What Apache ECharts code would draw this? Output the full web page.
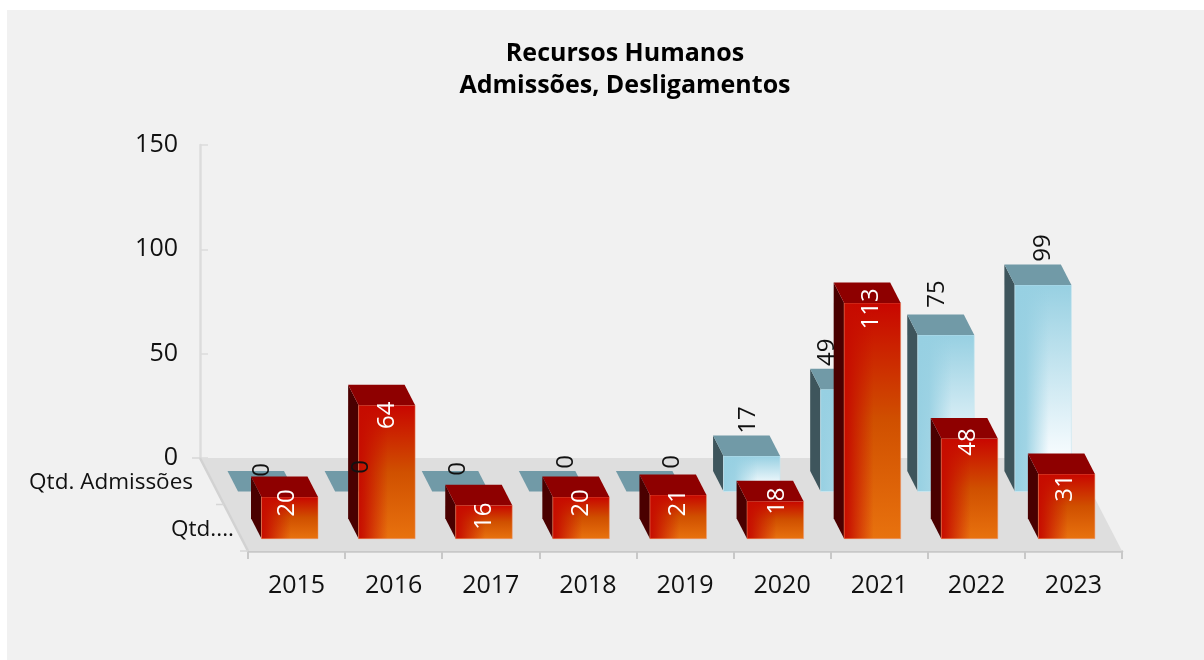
<!DOCTYPE html>
<html>
<head>
<meta charset="utf-8">
<script src="https://cdn.jsdelivr.net/npm/echarts@6/dist/echarts.min.js"></script>
<style>
html,body{margin:0;padding:0;background:#fff;width:1204px;height:660px;overflow:hidden}
#c{position:absolute;left:0;top:0;width:1204px;height:660px}
</style>
</head>
<body>
<div id="c"></div>
<script>
var years = ['2015','2016','2017','2018','2019','2020','2021','2022','2023'];
var admissoes = [0,0,0,0,0,17,49,75,99];
var desligamentos = [20,64,16,20,21,18,113,48,31];
var yTicks = [0,50,100,150];
var titleLines = 'Recursos Humanos\nAdmissões, Desligamentos';
var depthNames = ['Qtd. Admissões','Qtd....'];

var FONT = '"Open Sans","Noto Sans",sans-serif';
var chart = echarts.init(document.getElementById('c'), null, {renderer:'canvas'});

// projection settings
var GL = 248, GR = 82, GT = 145, GB = 202;
var floorDrop = 93, floorShift = 48;
var faceW = 56.5, dx = 10.5, dy = 20.5;
var backRow = {shiftX:-10, shiftY:33.5}, frontRow = {shiftX:13.5, shiftY:80.7};
// individual label placement (label centre relative to the face centre / top)
var backLabelAt = [[0,0],[0,0],[0,0],[0,0],[0,0],[-4,-36],[-22,-37],[-9,-41],[0,-37]];
var zeroCentre = [[262,470],[361,467],[458,469],[566,462],[672,462]];
var frontLabelAt = [[-3,6],[0,10],[0,11],[0,6],[0,8],[2,0],[-1,6],[-1,3.5],[-1,14]];

function poly(points, fill, z2){
  return {type:'polygon', shape:{points:points}, style:{fill:fill}, z2:z2||0};
}
function lin(x0,y0,x1,y1,stops){
  return {type:'linear', x:x0, y:y0, x2:x1, y2:y1, global:false, colorStops:stops.map(function(s){return {offset:s[0],color:s[1]};})};
}
function box(api, row, colors){
  var cat = api.value(0), val = api.value(1);
  var p0 = api.coord([cat, 0]), p1 = api.coord([cat, val]);
  var band = api.size([1,0])[0];
  var xL = p0[0] - band/2 + row.shiftX, xR = xL + faceW;
  var yB = p0[1] + row.shiftY, yT = p1[1] + row.shiftY;
  var kids = [];
  if (val > 0) {
    kids.push(poly([[xL,yB],[xL-dx,yB-dy],[xL-dx,yT-dy],[xL,yT]], colors.side));
    kids.push({type:'rect', shape:{x:xL,y:yT,width:faceW,height:yB-yT}, style:{fill:lin(0,0,0,1,colors.v)}});
    kids.push({type:'rect', shape:{x:xL,y:yT,width:faceW,height:yB-yT}, style:{fill:lin(0,0,1,0,colors.h)}});
    kids.push({type:'rect', shape:{x:xL,y:yT,width:faceW,height:yB-yT}, style:{fill:'none',stroke:colors.edge,lineWidth:1}});
  }
  kids.push(poly([[xL,yT],[xL-dx,yT-dy],[xR-dx,yT-dy],[xR,yT]], colors.top));
  return {type:'group', children:kids};
}
var blue = {
  side:'#3e555c', top:'#719aa7', edge:'rgba(200,230,240,0.6)',
  v:[[0,'#97d0e2'],[0.82,'#f6fbfe'],[1,'#ffffff']],
  h:[[0,'rgba(151,208,226,1)'],[0.2,'rgba(151,208,226,0.9)'],[0.6,'rgba(151,208,226,0)'],[1,'rgba(151,208,226,0)']]
};
var red = {
  side:'#4a0000', top:'#8e0000', edge:'rgba(240,150,110,0.5)',
  v:[[0,'#c80600'],[0.5,'#d05000'],[1,'#e8720e']],
  h:[[0,'rgba(198,12,0,1)'],[0.1,'rgba(198,12,0,0.85)'],[0.52,'rgba(198,12,0,0)'],[1,'rgba(198,12,0,0)']]
};
function renderBack(p, api){ return box(api, backRow, blue); }
function renderFront(p, api){ return box(api, frontRow, red); }

function renderFloor(p, api){
  if (p.dataIndex !== 0) return null;
  var c = p.coordSys;
  var xl = c.x, xr = c.x + c.width, yb = c.y + c.height + floorDrop, yt = c.y + c.height;
  var s = {stroke:'#d2d2d2', lineWidth:2.5};
  var t = {stroke:'#d6d6d6', lineWidth:1.5};
  var line = function(a,b,st){ return {type:'line', shape:{x1:a[0],y1:a[1],x2:b[0],y2:b[1]}, style:st}; };
  var ym = (yt+yb)/2;
  return {type:'group', children:[
    poly([[xl-floorShift,yt],[xr-floorShift,yt],[xr,yb],[xl,yb]], '#dedede'),
    line([xl-floorShift,yt],[xl,yb],s),
    line([xl-floorShift-8,yt],[xl-floorShift,yt],t),
    line([xl-floorShift/2-8,ym],[xl-floorShift/2,ym],t),
    line([xl-8,yb],[xl,yb],t)
  ]};
}
function rotText(x,y,text,color,size){
  return {type:'text', x:x, y:y, rotation:Math.PI/2, style:{text:text, fill:color, font:'400 '+size+'px '+FONT, align:'center', verticalAlign:'middle'}};
}
function renderBackLabel(p, api){
  var cat = api.value(0), val = api.value(1);
  var p0 = api.coord([cat,0]), p1 = api.coord([cat,val]);
  var band = api.size([1,0])[0];
  var cx = p0[0]-band/2+backRow.shiftX+faceW/2;
  var top = p1[1]+backRow.shiftY;
  if (val === 0) {
    var z = zeroCentre[cat];
    return rotText(z[0], z[1], String(val), '#111', 24);
  }
  var n = backLabelAt[cat];
  return rotText(cx+n[0], top+n[1], String(val), '#111', 24);
}
function renderFrontLabel(p, api){
  var cat = api.value(0), val = api.value(1);
  var p0 = api.coord([cat,0]), p1 = api.coord([cat,val]);
  var band = api.size([1,0])[0];
  var cx = p0[0]-band/2+frontRow.shiftX+faceW/2;
  var top = p1[1]+frontRow.shiftY;
  var n = frontLabelAt[cat];
  return rotText(cx+n[0], top+n[1], String(val), '#fff', 24);
}
function rows(arr){ return arr.map(function(v,i){return [i,v];}); }

chart.setOption({
  animation:false,
  backgroundColor:'transparent',
  graphic:[
    {type:'rect', z:-10, silent:true, shape:{x:7,y:10,width:1197,height:650}, style:{fill:'#f1f1f1'}},
    {type:'text', z:5, x:625, y:69.5, style:{text:titleLines, font:'700 25px '+FONT, fill:'#000', align:'center', verticalAlign:'middle', lineHeight:32}},
    {type:'text', z:5, x:193, y:483, style:{text:depthNames[0], font:'400 22.5px '+FONT, fill:'#111', align:'right', verticalAlign:'middle'}},
    {type:'text', z:5, x:234, y:530, style:{text:depthNames[1], font:'400 22.5px '+FONT, fill:'#111', align:'right', verticalAlign:'middle'}}
  ],
  grid:{left:GL, right:GR, top:GT, bottom:GB, containLabel:false},
  xAxis:{
    type:'category', data:years, boundaryGap:true, offset:floorDrop,
    axisLine:{show:true, onZero:false, lineStyle:{color:'#c8c8c8', width:2.5}},
    axisTick:{show:true, length:8, lineStyle:{color:'#c8c8c8', width:2}},
    axisLabel:{color:'#111', fontSize:25, fontFamily:FONT, margin:22},
    splitLine:{show:false}
  },
  yAxis:{
    type:'value', min:0, max:150, interval:50, offset:floorShift,
    axisLine:{show:true, lineStyle:{color:'#dcdcdc', width:2.5}},
    axisTick:{show:true, inside:true, length:8, lineStyle:{color:'#dcdcdc', width:1.5}},
    axisLabel:{color:'#111', fontSize:25, fontFamily:FONT, margin:22, formatter:function(v){return yTicks.indexOf(v)>=0?String(v):'';}},
    splitLine:{show:false}
  },
  series:[
    {type:'custom', name:'piso', z:1, silent:true, renderItem:renderFloor, encode:{x:0,y:1}, data:rows(admissoes), clip:false},
    {type:'custom', name:'Qtd. Admissões', z:2, renderItem:renderBack, encode:{x:0,y:1}, data:rows(admissoes), clip:false},
    {type:'custom', name:'Qtd. Desligamentos', z:3, renderItem:renderFront, encode:{x:0,y:1}, data:rows(desligamentos), clip:false},
    {type:'custom', name:'r1', z:4, silent:true, renderItem:renderBackLabel, encode:{x:0,y:1}, data:rows(admissoes), clip:false},
    {type:'custom', name:'r2', z:4, silent:true, renderItem:renderFrontLabel, encode:{x:0,y:1}, data:rows(desligamentos), clip:false}
  ]
});
</script>
</body>
</html>
